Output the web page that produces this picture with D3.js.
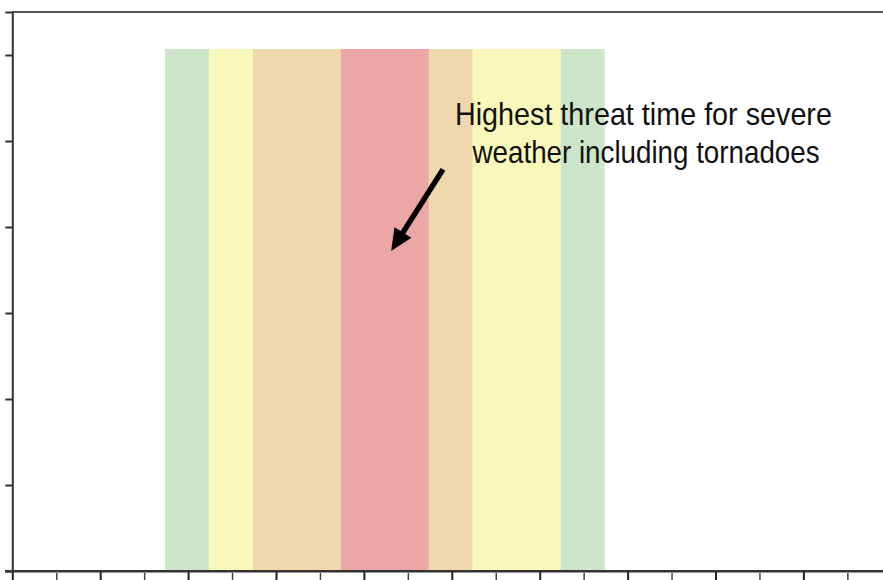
<!DOCTYPE html>
<html>
<head>
<meta charset="utf-8">
<script src="https://cdn.jsdelivr.net/npm/d3@7"></script>
<style>
  body { margin: 0; background: #fff; }
  svg { display: block; }
</style>
</head>
<body>
<div id="chart-area"></div>
<script>
// threat bands, x in hours from chart start, top in axis units
var bandStart = [3.5, 4.5, 5.5, 7.5, 9.5, 10.5, 12.5];
var bandEnd   = [4.5, 5.5, 7.5, 9.5, 10.5, 12.5, 13.5];
var bandTop   = [6.07, 6.07, 6.07, 6.07, 6.07, 6.07, 6.07];
var bandThreat = ["low", "moderate", "elevated", "highest", "elevated", "moderate", "low"];

var threatLevels = ["low", "moderate", "elevated", "highest"];
var yTicks = [0, 1, 2, 3, 4, 5, 6];
var xMajorTicks = [0, 2, 4, 6, 8, 10, 12, 14, 16, 18];
var xMinorTicks = [1, 3, 5, 7, 9, 11, 13, 15, 17, 19];

var noteLines = ["Highest threat time for severe", "weather including tornadoes"];

var width = 883;
var height = 580;

var svg = d3.select("#chart-area").append("svg")
.attr("width", width)
.attr("height", height)

var x = d3.scaleLinear()
.domain([0, 20])
.range([12.3, 891.3])

var y = d3.scaleLinear()
.domain([0, 6.5])
.range([571, 12])

var color = d3.scaleOrdinal()
.domain(threatLevels)
.range(["#cde5c9", "#f9f8bb", "#efd8ae", "#eba6a6"])

// bands
var bands = bandStart.map((s, i) => ({start: s, end: bandEnd[i], top: bandTop[i], threat: bandThreat[i]}))

svg.append("g").selectAll("rect")
.data(bands)
.enter().append("rect")
.attr("x", d => x(d.start) - 1)
.attr("width", d => x(d.end) - x(d.start))
.attr("y", d => y(d.top))
.attr("height", d => y(0) - y(d.top))
.attr("fill", d => color(d.threat))

// top frame line
svg.append("line")
.attr("x1", x(0)).attr("x2", width)
.attr("y1", y(6.5)).attr("y2", y(6.5))
.attr("stroke", "#555")
.attr("stroke-width", 2)

// left axis
var yAxisCall = d3.axisLeft(y).tickValues(yTicks).tickSize(7).tickFormat("")
var yAxisGroup = svg.append("g")
.attr("transform", "translate(" + x(0) + ",0)")
.call(yAxisCall)

// bottom axis, major + minor
var xAxisGroup = svg.append("g")
.attr("transform", "translate(0," + y(0) + ")")
.call(d3.axisBottom(x).tickValues(xMajorTicks).tickSize(10).tickFormat("").tickSizeOuter(0))

var xMinorGroup = svg.append("g")
.attr("transform", "translate(0," + (y(0) + 2) + ")")
.call(d3.axisBottom(x).tickValues(xMinorTicks).tickSize(7).tickFormat(""))
xMinorGroup.select(".domain").remove()

svg.selectAll(".domain").attr("stroke", "#333").attr("stroke-width", 2)
yAxisGroup.selectAll(".tick line").attr("stroke", "#333").attr("stroke-width", 2)
xAxisGroup.selectAll(".tick line").attr("stroke", "#222").attr("stroke-width", 2)
xMinorGroup.selectAll(".tick line").attr("stroke", "#444").attr("stroke-width", 1.5)

// extend bottom axis to the left of the y axis
svg.append("line")
.attr("x1", 5).attr("x2", width)
.attr("y1", y(0)).attr("y2", y(0))
.attr("stroke", "#333")
.attr("stroke-width", 2)

// annotation
var note = svg.append("g")
.attr("font-family", "'Liberation Sans Narrow', 'Arial Narrow', 'Liberation Sans', Arial, sans-serif")
.attr("font-size", "32px")
.attr("fill", "#111")
.attr("text-anchor", "middle")

note.append("text")
.attr("x", x(14.36))
.attr("y", y(5.19))
.attr("textLength", 377)
.attr("lengthAdjust", "spacingAndGlyphs")
.text(noteLines[0])

note.append("text")
.attr("x", x(14.42))
.attr("y", y(4.75))
.attr("textLength", 347)
.attr("lengthAdjust", "spacingAndGlyphs")
.text(noteLines[1])

// arrow: tail -> tip, head drawn as a triangle
var x1 = x(9.8), y1 = y(4.67), x2 = x(8.62), y2 = y(3.72)
var ang = Math.atan2(y2 - y1, x2 - x1)
var headLen = 22, headHalf = 10
var bx = x2 - headLen * Math.cos(ang), by = y2 - headLen * Math.sin(ang)

svg.append("line")
.attr("x1", x1).attr("y1", y1)
.attr("x2", bx + 4 * Math.cos(ang)).attr("y2", by + 4 * Math.sin(ang))
.attr("stroke", "#000")
.attr("stroke-width", 5.5)

svg.append("path")
.attr("d", "M" + x2 + "," + y2 +
  "L" + (bx - headHalf * Math.sin(ang)) + "," + (by + headHalf * Math.cos(ang)) +
  "L" + (bx + headHalf * Math.sin(ang)) + "," + (by - headHalf * Math.cos(ang)) + "Z")
.attr("fill", "#000")
</script>
</body>
</html>
